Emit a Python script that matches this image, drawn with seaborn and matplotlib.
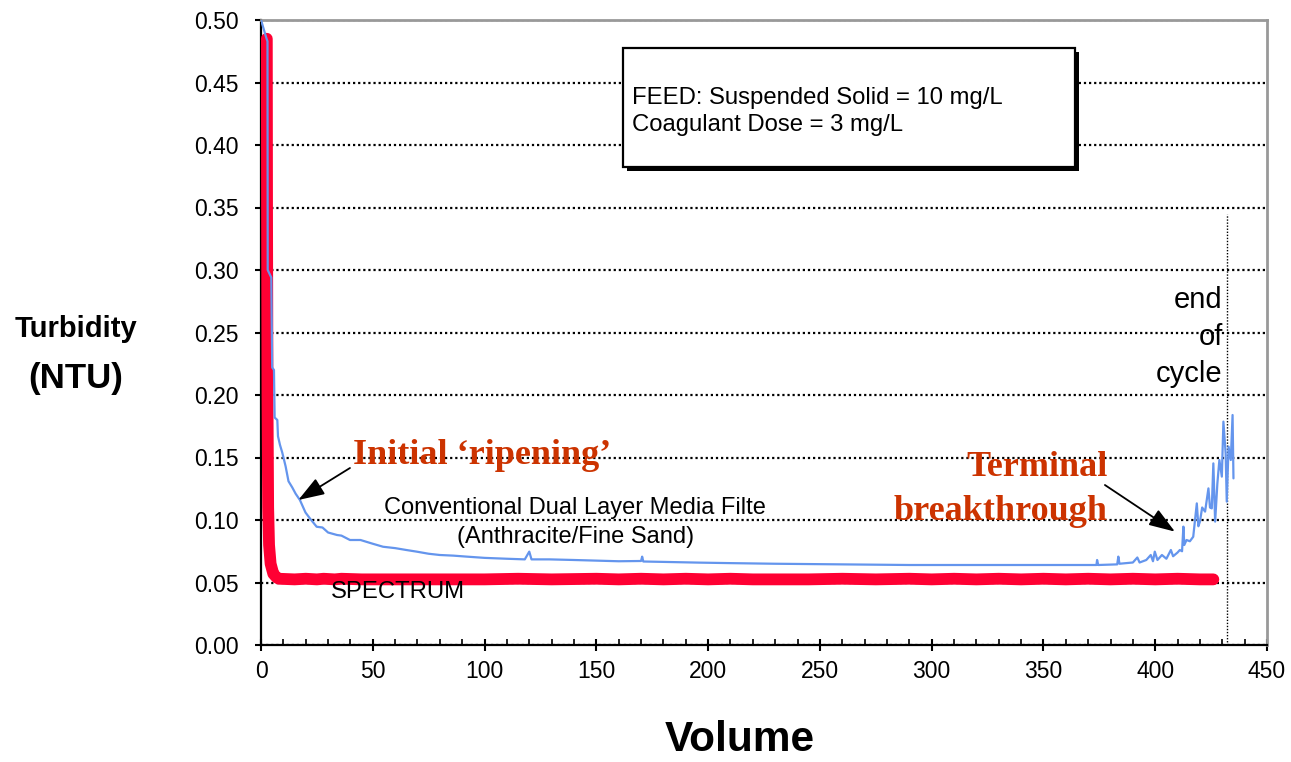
"""
Filter effluent turbidity vs volume: SPECTRUM vs conventional dual media filter.
"""

import matplotlib
matplotlib.use("Agg")
import matplotlib.pyplot as plt
from matplotlib.patches import Rectangle
from matplotlib.ticker import MultipleLocator, FormatStrFormatter
import seaborn as sns
import pandas as pd

# ---- data ----
conv_x = [0, 2.5, 2.9, 3.0, 4.6, 5.0, 5.8, 6.1, 7.3, 7.6, 8.5, 9.5, 11, 12.3, 14, 15.5,
          17.4, 19.9, 22, 24.9, 27.5, 30, 34, 36, 39.8, 44.5, 50, 54.6, 60, 65, 69.6,
          75, 80, 86, 92, 100, 110, 118, 120, 121, 129, 140, 150, 160, 170, 170.5,
          171, 185, 196, 210, 230, 260, 290, 320, 350, 365, 373.7, 374, 374.5, 383,
          383.5, 384, 390, 392, 393, 396, 398, 399, 399.8, 401, 403, 405, 407, 408,
          410, 411, 412, 412.6, 413, 414, 415.5, 417, 418.6, 419.3, 420, 421, 422.3,
          423.8, 424.5, 425.3, 426, 426.8, 427.8, 428.7, 429.8, 430.5, 431.5, 432,
          432.8, 433.8, 434.6, 435]
conv_y = [0.500, 0.485, 0.483, 0.300, 0.294, 0.222, 0.220, 0.182, 0.180, 0.167, 0.160,
          0.154, 0.143, 0.131, 0.126, 0.121, 0.116, 0.106, 0.101, 0.0946, 0.094, 0.090,
          0.088, 0.0875, 0.084, 0.084, 0.081, 0.0786, 0.0775, 0.076, 0.0747, 0.073,
          0.072, 0.0715, 0.0707, 0.0697, 0.069, 0.0685, 0.0747, 0.0685, 0.0685, 0.068,
          0.0675, 0.067, 0.0672, 0.0707, 0.0668, 0.0663, 0.0659, 0.0655, 0.065, 0.0645,
          0.064, 0.064, 0.064, 0.064, 0.064, 0.068, 0.064, 0.0645, 0.0707, 0.065, 0.066,
          0.070, 0.066, 0.068, 0.072, 0.067, 0.0747, 0.068, 0.072, 0.069, 0.076, 0.071,
          0.074, 0.076, 0.075, 0.0947, 0.080, 0.084, 0.083, 0.0866, 0.1133, 0.095,
          0.0987, 0.110, 0.1067, 0.1253, 0.110, 0.1093, 0.1453, 0.0987, 0.1293, 0.148,
          0.1347, 0.1787, 0.1533, 0.1147, 0.1587, 0.148, 0.184, 0.1333]

spectrum_x = [2.6, 2.7, 2.9, 3.2, 3.6, 4.3, 5.5, 7, 8, 15, 20, 25, 28, 33, 36, 45, 60,
              80, 100, 115, 130, 150, 160, 170, 180, 190, 200, 210, 220, 230, 245, 260,
              275, 290, 300, 310, 320, 330, 340, 350, 360, 370, 380, 390, 400, 410,
              420, 426]
spectrum_y = [0.485, 0.350, 0.200, 0.110, 0.080, 0.065, 0.057, 0.054, 0.053, 0.0525,
              0.053, 0.0525, 0.053, 0.0525, 0.053, 0.0525, 0.0525, 0.0525, 0.0525, 0.053,
              0.0525, 0.053, 0.0525, 0.053, 0.0525, 0.053, 0.0525, 0.053, 0.0525, 0.0525,
              0.0525, 0.053, 0.0525, 0.053, 0.0525, 0.053, 0.0525, 0.053, 0.0525, 0.053,
              0.0525, 0.053, 0.0525, 0.053, 0.0525, 0.053, 0.0525, 0.0525]

end_cycle_x = 432
end_cycle_top = 0.345

x_ticks = [0, 50, 100, 150, 200, 250, 300, 350, 400, 450]
y_ticks = [0.00, 0.05, 0.10, 0.15, 0.20, 0.25, 0.30, 0.35, 0.40, 0.45, 0.50]

conv = pd.DataFrame({"Volume": conv_x, "Turbidity": conv_y})
spec = pd.DataFrame({"Volume": spectrum_x, "Turbidity": spectrum_y})

# ---- style ----
sns.set_style("white")
plt.rcParams['font.family'] = ['Liberation Sans', 'DejaVu Sans']
plt.rcParams['axes.unicode_minus'] = False
plt.rcParams['text.color'] = 'black'
plt.rcParams['axes.labelcolor'] = 'black'
plt.rcParams['xtick.color'] = 'black'
plt.rcParams['ytick.color'] = 'black'

BLUE = '#6495ED'
RED = '#FF0033'
ANNOT = '#CC3300'

W, H = 1291, 762
fig = plt.figure(figsize=(W / 100, H / 100), dpi=100)
ax = fig.add_axes([261 / W, 117 / H, 1006 / W, 625 / H])

sns.lineplot(data=conv, x="Volume", y="Turbidity", ax=ax, color=BLUE, lw=1.6,
             sort=False, estimator=None, zorder=4)
sns.lineplot(data=spec, x="Volume", y="Turbidity", ax=ax, color=RED, lw=8.5,
             sort=False, estimator=None, zorder=3, solid_capstyle='round',
             solid_joinstyle='round')

ax.vlines(end_cycle_x, 0, end_cycle_top, colors='black', linestyles=(0, (1, 1.2)),
          lw=1.0, zorder=2)

ax.set_xlim(0, 450)
ax.set_ylim(0, 0.5)
ax.set_xticks(x_ticks)
ax.set_yticks(y_ticks)
ax.xaxis.set_minor_locator(MultipleLocator(10))
ax.yaxis.set_major_formatter(FormatStrFormatter('%.2f'))
ax.set_xlabel("")
ax.set_ylabel("")

ax.yaxis.grid(True, linestyle=(0, (1, 1.3)), color='black', lw=1.6)
ax.xaxis.grid(False)
ax.set_axisbelow(True)

for side in ['left', 'bottom']:
    ax.spines[side].set_color('black')
    ax.spines[side].set_linewidth(1.6)
for side in ['top', 'right']:
    ax.spines[side].set_color('#999999')
    ax.spines[side].set_linewidth(2)

ax.tick_params(axis='y', which='major', direction='out', length=4, width=1.5,
               pad=12, labelsize=16.5, left=True, colors='black')
ax.tick_params(axis='x', which='major', direction='inout', length=8, width=1.5,
               pad=7, labelsize=16.5, bottom=True, colors='black')
ax.tick_params(axis='x', which='minor', direction='in', length=4, width=1.2,
               bottom=True, colors='black')

# axis titles
fig.text(76 / W, 1 - 329 / H, "Turbidity", ha='center', va='center',
         fontsize=21, fontweight='bold')
fig.text(76 / W, 1 - 379 / H, "(NTU)", ha='center', va='center',
         fontsize=25, fontweight='bold')
fig.text(740 / W, 1 - 740 / H, "Volume", ha='center', va='center',
         fontsize=30.5, fontweight='bold')

# info box with drop shadow
bx0, bx1 = (623 - 261) / 1006, (1075 - 261) / 1006
by0, by1 = (645 - 167) / 625, (645 - 48) / 625
ax.add_patch(Rectangle((bx0 + 4 / 1006, by0 - 4 / 625), bx1 - bx0, by1 - by0,
                       transform=ax.transAxes, facecolor='black', edgecolor='none',
                       zorder=6))
ax.add_patch(Rectangle((bx0, by0), bx1 - bx0, by1 - by0, transform=ax.transAxes,
                       facecolor='white', edgecolor='black', lw=1.6, zorder=7))
ax.text((632 - 261) / 1006, (645 - 98) / 625, "FEED: Suspended Solid = 10 mg/L",
        transform=ax.transAxes, ha='left', va='center', fontsize=17.2, zorder=8)
ax.text((632 - 261) / 1006, (645 - 125) / 625, "Coagulant Dose = 3 mg/L",
        transform=ax.transAxes, ha='left', va='center', fontsize=17.2, zorder=8)

# curve labels
ax.text(140.6, 0.1096, "Conventional Dual Layer Media Filte", ha='center', va='center',
        fontsize=17, zorder=5)
ax.text(140.6, 0.0864, "(Anthracite/Fine Sand)", ha='center', va='center',
        fontsize=17, zorder=5)
ax.text(31.3, 0.0424, "SPECTRUM", ha='left', va='center', fontsize=17.2, zorder=5)

ax.text(430.2, 0.2760, "end", ha='right', va='center', fontsize=21, zorder=5)
ax.text(430.2, 0.2464, "of", ha='right', va='center', fontsize=21, zorder=5)
ax.text(430.2, 0.2168, "cycle", ha='right', va='center', fontsize=21, zorder=5)

serif = ['Liberation Serif', 'DejaVu Serif']
ax.text(98.8, 0.152, "Initial \u2018ripening\u2019", ha='center', va='center',
        fontsize=26, fontweight='bold', family=serif, color=ANNOT, zorder=5)
ax.text(378.8, 0.1416, "Terminal", ha='right', va='center',
        fontsize=26, fontweight='bold', family=serif, color=ANNOT, zorder=5)
ax.text(378.8, 0.1064, "breakthrough", ha='right', va='center',
        fontsize=26, fontweight='bold', family=serif, color=ANNOT, zorder=5)

arrow = dict(arrowstyle='-|>,head_length=1.0,head_width=0.35', color='black',
             lw=1.3, shrinkA=0, shrinkB=0, mutation_scale=16)
ax.annotate("", xy=(16.7, 0.116), xytext=(39.8, 0.1416), arrowprops=arrow, zorder=6)
ax.annotate("", xy=(408.8, 0.0907), xytext=(377.5, 0.128), arrowprops=arrow, zorder=6)

fig.savefig("out.png", dpi=100)
